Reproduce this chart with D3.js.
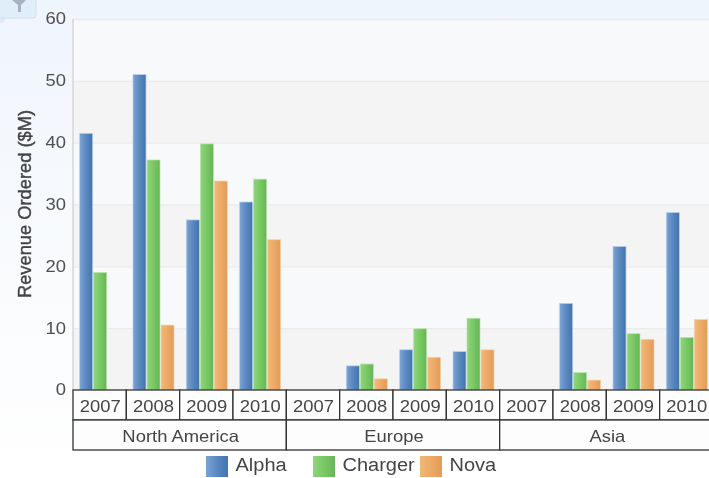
<!DOCTYPE html>
<html>
<head>
<meta charset="utf-8">
<script src="https://d3js.org/d3.v7.min.js"></script>
<style>
  html, body { margin: 0; padding: 0; overflow: hidden; background: #fff; }
  svg { display: block; filter: blur(0.45px); }
  text { font-family: "Liberation Sans", Arial, sans-serif; fill: #444; }
</style>
</head>
<body>
<div id="chart"></div>
<script>
const regions = ['North America', 'Europe', 'Asia'];
const years = ['2007', '2008', '2009', '2010'];
const seriesNames = ['Alpha', 'Charger', 'Nova'];
const alpha = [41.5, 51, 27.5, 30.4, 0, 3.9, 6.5, 6.2, 0, 14, 23.2, 28.7];
const charger = [19, 37.2, 39.8, 34.1, 0, 4.2, 9.9, 11.6, 0, 2.8, 9.1, 8.5];
const nova = [0, 10.5, 33.8, 24.3, 0, 1.8, 5.3, 6.5, 0, 1.6, 8.2, 11.4];
const yTicks = [0, 10, 20, 30, 40, 50, 60];

const width = 709;
const height = 478;
const margin = { left: 73, top: 19, right: -4, bottom: 88 };
const innerW = width - margin.left - margin.right;
const innerH = height - margin.top - margin.bottom;

const svg = d3.select('#chart').append('svg')
  .attr('width', width)
  .attr('height', height);

const defs = svg.append('defs');

function addGradient(id, stops, horizontal) {
  const g = defs.append('linearGradient')
    .attr('id', id)
    .attr('x1', 0).attr('y1', 0)
    .attr('x2', horizontal ? 1 : 0).attr('y2', horizontal ? 0 : 1);
  stops.forEach((s, i) => {
    g.append('stop')
      .attr('offset', i / (stops.length - 1))
      .attr('stop-color', s);
  });
}

// the reference text is a bit wider than the font, stretch it sideways
function stretch(selection, factor) {
  selection.each(function eachText() {
    const len = this.getComputedTextLength() * factor;
    d3.select(this)
      .attr('textLength', len)
      .attr('lengthAdjust', 'spacingAndGlyphs');
  });
}

addGradient('page-bg', ['#eff5fd', '#f8fafd', '#ffffff']);
addGradient('grad-0', ['#7ba3d4', '#5a88c0', '#4474ac'], true);
addGradient('grad-1', ['#8ed67c', '#78c864', '#68b456'], true);
addGradient('grad-2', ['#f3b878', '#ecaa66', '#e09c58'], true);

const barEdges = ['#b4cde8', '#b8e4ac', '#f6d2aa'];

svg.append('rect')
  .attr('width', width)
  .attr('height', height)
  .attr('fill', 'url(#page-bg)');

const x = d3.scaleBand()
  .domain(d3.range(regions.length * years.length))
  .range([0, innerW]);

const xInner = d3.scaleBand()
  .domain(seriesNames)
  .range([x.bandwidth() / 2 - 20.5, x.bandwidth() / 2 + 21.5]);

const y = d3.scaleLinear()
  .domain([0, 60])
  .range([innerH, 0]);

const plot = svg.append('g')
  .attr('transform', `translate(${margin.left}, ${margin.top})`);

// alternating bands behind the bars
plot.selectAll('.band')
  .data(yTicks.slice(0, -1))
  .enter()
  .append('rect')
  .attr('class', 'band')
  .attr('x', 0)
  .attr('width', innerW)
  .attr('y', (d) => y(d + 10))
  .attr('height', (d) => y(d) - y(d + 10))
  .attr('fill', (d, i) => (i % 2 ? '#f8f9fb' : '#f4f4f5'));

const yAxis = d3.axisLeft(y)
  .tickValues(yTicks)
  .tickSize(-innerW)
  .tickPadding(8);

const yG = plot.append('g')
  .attr('class', 'y-axis axis')
  .call(yAxis);
yG.select('.domain').remove();
yG.selectAll('line').attr('stroke', '#ebebeb').attr('stroke-width', 1.4);
yG.selectAll('text')
  .attr('font-size', 16.5)
  .attr('x', -7)
  .attr('dy', '0.3em')
  .style('fill', '#4f4f4f')
  .call(stretch, 1.115);

plot.append('line')
  .attr('x1', 0).attr('x2', 0)
  .attr('y1', 0).attr('y2', innerH)
  .attr('stroke', '#d6d6d6')
  .attr('stroke-width', 1.5);

svg.append('text')
  .attr('transform', 'translate(31, 204) rotate(-90)')
  .attr('text-anchor', 'middle')
  .attr('font-size', 18)
  .style('fill', '#444')
  .style('stroke', '#444')
  .style('stroke-width', 0.4)
  .text('Revenue Ordered ($M)')
  .attr('textLength', 188)
  .attr('lengthAdjust', 'spacingAndGlyphs');

[alpha, charger, nova].forEach((values, s) => {
  plot.selectAll(`.bar-${s}`)
    .data(values)
    .enter()
    .append('rect')
    .attr('class', `bar-${s}`)
    .attr('x', (d, i) => x(i) + xInner(seriesNames[s]) + 0.5)
    .attr('width', xInner.bandwidth() - 1)
    .attr('y', (d) => y(d))
    .attr('height', (d) => innerH - y(d))
    .attr('fill', `url(#grad-${s})`)
    .attr('stroke', (d) => (d > 0 ? barEdges[s] : 'none'))
    .attr('stroke-width', 0.7);
});

// two-level category axis
const cellH = 30;
const axisG = plot.append('g')
  .attr('transform', `translate(0, ${innerH})`);

axisG.selectAll('.year-cell')
  .data(x.domain())
  .enter()
  .append('rect')
  .attr('class', 'year-cell')
  .attr('x', (d) => x(d))
  .attr('width', x.bandwidth())
  .attr('height', cellH)
  .attr('fill', '#fdfdfd')
  .attr('stroke', '#333')
  .attr('stroke-width', 1.3);

axisG.selectAll('.year-label')
  .data(x.domain())
  .enter()
  .append('text')
  .attr('class', 'year-label')
  .attr('x', (d) => x(d) + x.bandwidth() / 2 + 0.5)
  .attr('y', 22)
  .attr('text-anchor', 'middle')
  .attr('font-size', 16.5)
  .text((d) => years[d % years.length])
  .call(stretch, 1.115);

axisG.selectAll('.region-cell')
  .data(regions)
  .enter()
  .append('rect')
  .attr('class', 'region-cell')
  .attr('x', (d, i) => x(i * years.length))
  .attr('y', cellH)
  .attr('width', x.bandwidth() * years.length)
  .attr('height', cellH)
  .attr('fill', '#fdfdfd')
  .attr('stroke', '#333')
  .attr('stroke-width', 1.3);

axisG.selectAll('.region-label')
  .data(regions)
  .enter()
  .append('text')
  .attr('class', 'region-label')
  .attr('x', (d, i) => x(i * years.length) + x.bandwidth() * years.length / 2 + 1)
  .attr('y', cellH + 22)
  .attr('text-anchor', 'middle')
  .attr('font-size', 16.5)
  .text((d) => d)
  .call(stretch, 1.115);

// legend
const legendX = d3.scalePoint()
  .domain(seriesNames)
  .range([206, 420]);

const legend = svg.selectAll('.legend')
  .data(seriesNames)
  .enter()
  .append('g')
  .attr('class', 'legend')
  .attr('transform', (d) => `translate(${legendX(d)}, 456)`);

legend.append('rect')
  .attr('width', 22)
  .attr('height', 21)
  .attr('fill', (d, i) => `url(#grad-${i})`);

legend.append('text')
  .attr('x', 29.5)
  .attr('y', 15)
  .attr('font-size', 18)
  .text((d) => d)
  .call(stretch, 1.11);

// filter badge in the corner
const badge = svg.append('g');
badge.append('path')
  .attr('d', d3.line()([[0, 18], [6, 18], [3, 23], [0, 23]]))
  .attr('fill', '#dcebf8');
badge.append('rect')
  .attr('x', -8).attr('y', -8)
  .attr('width', 44).attr('height', 26)
  .attr('rx', 3)
  .attr('fill', '#e0eefa')
  .attr('stroke', '#cfe0f0');
badge.append('path')
  .attr('d', d3.line()([[12, 0], [26, 0], [21, 5], [21, 12], [18, 12], [18, 5]]))
  .attr('fill', '#a9b2ba');
</script>
</body>
</html>
